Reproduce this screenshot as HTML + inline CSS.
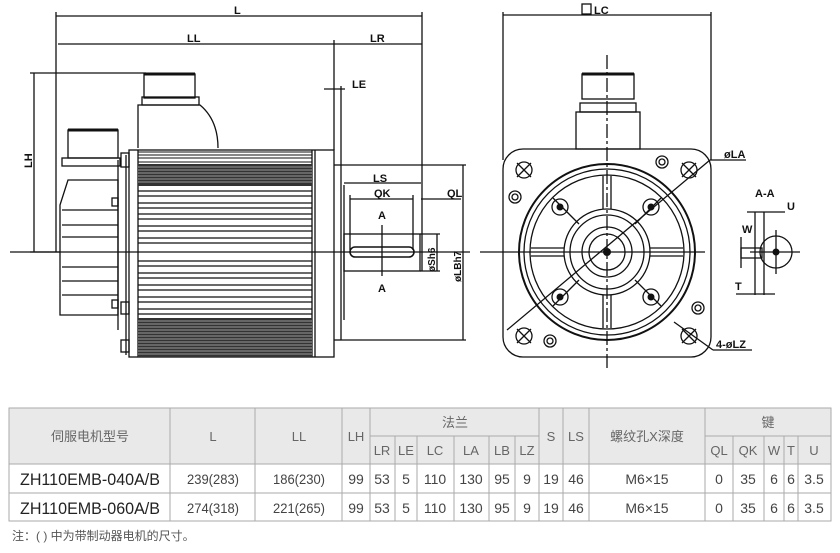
<!DOCTYPE html>
<html><head><meta charset="utf-8"><style>
html,body{margin:0;padding:0;background:#fff;width:840px;height:553px;overflow:hidden}
svg{display:block}
</style></head><body>
<svg width="840" height="553" viewBox="0 0 840 553" xmlns="http://www.w3.org/2000/svg" font-family="Liberation Sans, sans-serif">
<g stroke="#111" stroke-width="1.3" fill="none">
<!-- dimension lines left view -->
<line x1="56" y1="16" x2="422" y2="16"/>
<line x1="56" y1="12" x2="56" y2="252"/>
<line x1="422" y1="12" x2="422" y2="271"/>
<line x1="58" y1="44" x2="334" y2="44"/>
<line x1="334" y1="40" x2="334" y2="150"/>
<line x1="334" y1="44" x2="422" y2="44"/>
<line x1="324" y1="89" x2="345" y2="89"/>
<line x1="341" y1="86" x2="341" y2="165"/>
<line x1="34" y1="73" x2="34" y2="252"/>
<line x1="30" y1="73" x2="146" y2="73"/>
<line x1="30" y1="252" x2="60" y2="252"/>
<!-- motor body -->
<rect x="129" y="150" width="205" height="207"/>
<line x1="138" y1="150" x2="138" y2="357"/>
<line x1="312" y1="150" x2="312" y2="357"/>
<line x1="315" y1="150" x2="315" y2="357"/>
<line x1="334" y1="165" x2="341" y2="165"/>
<line x1="334" y1="340" x2="341" y2="340"/>
<line x1="341" y1="165" x2="341" y2="340"/>
<line x1="344" y1="185" x2="344" y2="320"/>
<!-- connector top -->
<path d="M138 148 L138 105 L200 105 Q218 120 218 148"/>
<rect x="142" y="97" width="57" height="8"/>
<rect x="144" y="74" width="51" height="24"/>
<line x1="144" y1="74" x2="195" y2="74" stroke-width="3"/>
<!-- encoder module -->
<path d="M60 315 L60 205 L68 180 L118 180 L118 315 Z"/>
<rect x="62" y="158" width="58" height="8"/>
<rect x="68" y="130" width="50" height="28"/>
<line x1="68" y1="130" x2="118" y2="130" stroke-width="3"/>
<line x1="118" y1="160" x2="118" y2="330"/>
<line x1="126" y1="155" x2="126" y2="355"/>
<rect x="121" y="153" width="8" height="14"/>
<rect x="121" y="302" width="8" height="12"/>
<rect x="121" y="340" width="8" height="12"/>
<rect x="112" y="198" width="6" height="8"/>
<rect x="112" y="300" width="6" height="8"/>
<!-- shaft -->
<line x1="341" y1="165" x2="466" y2="165"/>
<line x1="341" y1="340" x2="466" y2="340"/>
<rect x="344" y="234" width="76" height="37"/>
<rect x="350" y="247" width="64" height="10" rx="5" stroke-width="1.6"/>
<line x1="463" y1="165" x2="463" y2="340"/>
<line x1="344" y1="183" x2="421" y2="183"/>
<line x1="350" y1="199" x2="413" y2="199"/>
<line x1="421" y1="199" x2="461" y2="199"/>
<line x1="350" y1="195" x2="350" y2="250"/>
<line x1="413" y1="195" x2="413" y2="250"/>
<line x1="382" y1="225" x2="382" y2="276"/>
<line x1="420" y1="234" x2="440" y2="234"/>
<line x1="420" y1="271" x2="440" y2="271"/>
<line x1="437" y1="234" x2="437" y2="271"/>
<line x1="10" y1="252" x2="470" y2="252"/>
</g>
<g stroke="#111" stroke-width="1">
<line x1="138" y1="152" x2="312" y2="152"/>
<line x1="138" y1="155" x2="312" y2="155"/>
<line x1="138" y1="158" x2="312" y2="158"/>
<line x1="138" y1="162" x2="312" y2="162"/>
</g>
<rect x="138" y="164" width="174" height="22" fill="#333"/>
<rect x="138" y="318" width="174" height="39" fill="#333"/>
<g stroke="#fff" stroke-width="0.6">
<line x1="138" y1="167" x2="312" y2="167"/><line x1="138" y1="170" x2="312" y2="170"/><line x1="138" y1="173" x2="312" y2="173"/><line x1="138" y1="176" x2="312" y2="176"/><line x1="138" y1="179" x2="312" y2="179"/><line x1="138" y1="182" x2="312" y2="182"/>
<line x1="138" y1="321" x2="312" y2="321"/><line x1="138" y1="324" x2="312" y2="324"/><line x1="138" y1="327" x2="312" y2="327"/><line x1="138" y1="330" x2="312" y2="330"/><line x1="138" y1="333" x2="312" y2="333"/><line x1="138" y1="336" x2="312" y2="336"/><line x1="138" y1="339" x2="312" y2="339"/><line x1="138" y1="342" x2="312" y2="342"/><line x1="138" y1="345" x2="312" y2="345"/><line x1="138" y1="348" x2="312" y2="348"/><line x1="138" y1="351" x2="312" y2="351"/><line x1="138" y1="354" x2="312" y2="354"/>
</g>
<g stroke="#111" stroke-width="1.3">
<line x1="138" y1="191" x2="312" y2="191"/><line x1="138" y1="196" x2="312" y2="196"/><line x1="138" y1="203" x2="312" y2="203"/><line x1="138" y1="208" x2="312" y2="208"/><line x1="138" y1="214" x2="312" y2="214"/><line x1="138" y1="219" x2="312" y2="219"/><line x1="138" y1="226" x2="312" y2="226"/><line x1="138" y1="231" x2="312" y2="231"/><line x1="138" y1="238" x2="312" y2="238"/><line x1="138" y1="243" x2="312" y2="243"/>
<line x1="138" y1="261" x2="312" y2="261"/><line x1="138" y1="266" x2="312" y2="266"/><line x1="138" y1="273" x2="312" y2="273"/><line x1="138" y1="278" x2="312" y2="278"/><line x1="138" y1="285" x2="312" y2="285"/><line x1="138" y1="290" x2="312" y2="290"/><line x1="138" y1="297" x2="312" y2="297"/><line x1="138" y1="302" x2="312" y2="302"/><line x1="138" y1="309" x2="312" y2="309"/><line x1="138" y1="314" x2="312" y2="314"/>
<line x1="62" y1="210" x2="118" y2="210"/><line x1="62" y1="225" x2="118" y2="225"/><line x1="62" y1="237" x2="118" y2="237"/><line x1="62" y1="267" x2="118" y2="267"/><line x1="62" y1="281" x2="118" y2="281"/><line x1="62" y1="295" x2="118" y2="295"/>
</g>
<g font-size="11" fill="#111" font-weight="600">
<text x="234" y="14">L</text>
<text x="187" y="42">LL</text>
<text x="370" y="42">LR</text>
<text x="352" y="88">LE</text>
<text x="373" y="182">LS</text>
<text x="374" y="197">QK</text>
<text x="447" y="197">QL</text>
<text x="378" y="219">A</text>
<text x="378" y="292">A</text>
<text transform="translate(32,168) rotate(-90)">LH</text>
<text transform="translate(435,272) rotate(-90)" font-size="10">øSh6</text>
<text transform="translate(461,282) rotate(-90)" font-size="10">øLBh7</text>
</g>
<!-- right view -->
<g stroke="#111" stroke-width="1.3" fill="none">
<line x1="503" y1="15" x2="711" y2="15"/>
<line x1="503" y1="12" x2="503" y2="160"/>
<line x1="711" y1="12" x2="711" y2="160"/>
<rect x="582" y="4" width="9" height="10"/>
<rect x="503" y="149" width="208" height="208" rx="20"/>
<rect x="576" y="112" width="64" height="37"/>
<rect x="580" y="103" width="56" height="9"/>
<rect x="582" y="74" width="52" height="25"/>
<line x1="582" y1="74" x2="634" y2="74" stroke-width="3"/>
<circle cx="607" cy="252" r="88" stroke-width="2"/>
<circle cx="607" cy="252" r="83"/>
<circle cx="607" cy="252" r="77"/>
<circle cx="607" cy="252" r="43"/>
<circle cx="607" cy="252" r="37"/>
<circle cx="607" cy="252" r="25"/>
<circle cx="607" cy="252" r="18"/>
<line x1="603" y1="176" x2="603" y2="209"/><line x1="611" y1="176" x2="611" y2="209"/>
<line x1="603" y1="295" x2="603" y2="328"/><line x1="611" y1="295" x2="611" y2="328"/>
<line x1="531" y1="248" x2="564" y2="248"/><line x1="531" y1="256" x2="564" y2="256"/>
<line x1="650" y1="248" x2="683" y2="248"/><line x1="650" y1="256" x2="683" y2="256"/>
<line x1="553" y1="198" x2="579" y2="224"/><line x1="661" y1="198" x2="635" y2="224"/>
<line x1="553" y1="306" x2="579" y2="280"/><line x1="661" y1="306" x2="635" y2="280"/>
<circle cx="560" cy="207" r="8"/><circle cx="651" cy="207" r="8"/><circle cx="560" cy="297" r="8"/><circle cx="651" cy="297" r="8"/>
<circle cx="524" cy="170" r="8"/><circle cx="689" cy="170" r="8"/><circle cx="524" cy="336" r="8"/><circle cx="689" cy="336" r="8"/>
<path d="M517 163 L531 177 M531 163 L517 177 M682 163 L696 177 M696 163 L682 177 M517 329 L531 343 M531 329 L517 343 M682 329 L696 343 M696 329 L682 343"/>
<circle cx="662" cy="162" r="6"/><circle cx="662" cy="162" r="3"/>
<circle cx="515" cy="197" r="6"/><circle cx="515" cy="197" r="3"/>
<circle cx="698" cy="308" r="6"/><circle cx="698" cy="308" r="3"/>
<circle cx="550" cy="341" r="6"/><circle cx="550" cy="341" r="3"/>
<line x1="607" y1="55" x2="607" y2="370" stroke-dasharray="14 3 3 3"/>
<line x1="480" y1="252" x2="705" y2="252"/>
<line x1="507" y1="330" x2="710" y2="160"/>
<line x1="710" y1="160" x2="746" y2="160"/>
<line x1="674" y1="322" x2="713" y2="350"/>
<line x1="713" y1="350" x2="752" y2="350"/>
<circle cx="776" cy="252" r="16"/>
<line x1="755" y1="212" x2="755" y2="295"/>
<line x1="764" y1="212" x2="764" y2="295"/>
<line x1="747" y1="212" x2="785" y2="212"/>
<line x1="741" y1="237" x2="741" y2="268"/>
<rect x="741" y="248" width="21" height="10"/>
<line x1="736" y1="294" x2="775" y2="294"/>
<line x1="750" y1="252" x2="800" y2="252"/>
<line x1="776" y1="230" x2="776" y2="274"/>
</g>
<g fill="#111"><circle cx="607" cy="252" r="4"/><circle cx="776" cy="252" r="3.5"/>
<circle cx="560" cy="207" r="3.5"/><circle cx="651" cy="207" r="3.5"/><circle cx="560" cy="297" r="3.5"/><circle cx="651" cy="297" r="3.5"/></g>
<g font-size="11" fill="#111" font-weight="600">
<text x="594" y="14">LC</text>
<text x="724" y="158">øLA</text>
<text x="716" y="348">4-øLZ</text>
<text x="755" y="197">A-A</text>
<text x="787" y="210">U</text>
<text x="742" y="233">W</text>
<text x="735" y="290">T</text>
</g>
<!-- table -->
<rect x="9" y="408" width="822" height="56" fill="#e9e9e9"/>
<g stroke="#aaa" stroke-width="1" fill="none">
<rect x="9" y="408" width="822" height="113"/>
<line x1="9" y1="464" x2="831" y2="464"/>
<line x1="9" y1="493" x2="831" y2="493"/>
<line x1="370" y1="436" x2="539" y2="436"/>
<line x1="705" y1="436" x2="831" y2="436"/>
<line x1="170" y1="408" x2="170" y2="521"/><line x1="255" y1="408" x2="255" y2="521"/>
<line x1="342" y1="408" x2="342" y2="521"/><line x1="370" y1="408" x2="370" y2="521"/>
<line x1="395" y1="436" x2="395" y2="521"/><line x1="417" y1="436" x2="417" y2="521"/>
<line x1="454" y1="436" x2="454" y2="521"/><line x1="489" y1="436" x2="489" y2="521"/>
<line x1="515" y1="436" x2="515" y2="521"/><line x1="539" y1="408" x2="539" y2="521"/>
<line x1="563" y1="408" x2="563" y2="521"/><line x1="589" y1="408" x2="589" y2="521"/>
<line x1="705" y1="408" x2="705" y2="521"/><line x1="733" y1="436" x2="733" y2="521"/>
<line x1="764" y1="436" x2="764" y2="521"/><line x1="784" y1="436" x2="784" y2="521"/>
<line x1="798" y1="436" x2="798" y2="521"/>
</g>
<g font-size="13" fill="#666" text-anchor="middle" font-family="Liberation Sans, Noto Sans CJK SC, sans-serif">
<text x="90" y="441">伺服电机型号</text><text x="213" y="441">L</text><text x="299" y="441">LL</text><text x="356" y="441">LH</text>
<text x="455" y="427">法兰</text><text x="551" y="441">S</text><text x="576" y="441">LS</text><text x="647" y="441">螺纹孔X深度</text><text x="768" y="427">键</text>
<text x="382" y="455">LR</text><text x="406" y="455">LE</text><text x="435" y="455">LC</text><text x="471" y="455">LA</text><text x="502" y="455">LB</text><text x="527" y="455">LZ</text>
<text x="719" y="455">QL</text><text x="748" y="455">QK</text><text x="774" y="455">W</text><text x="791" y="455">T</text><text x="814" y="455">U</text>
</g>
<g font-size="14" fill="#444" text-anchor="middle" font-stretch="condensed">
<text x="90" y="485" font-size="17" fill="#222" textLength="140" lengthAdjust="spacingAndGlyphs">ZH110EMB-040A/B</text><text x="213" y="484" textLength="52" lengthAdjust="spacingAndGlyphs">239(283)</text><text x="299" y="484" textLength="52" lengthAdjust="spacingAndGlyphs">186(230)</text><text x="356" y="484">99</text><text x="382" y="484">53</text><text x="406" y="484">5</text><text x="435" y="484">110</text><text x="471" y="484">130</text><text x="502" y="484">95</text><text x="527" y="484">9</text><text x="551" y="484">19</text><text x="576" y="484">46</text><text x="647" y="484">M6×15</text><text x="719" y="484">0</text><text x="748" y="484">35</text><text x="774" y="484">6</text><text x="791" y="484">6</text><text x="814" y="484">3.5</text>
<text x="90" y="514" font-size="17" fill="#222" textLength="140" lengthAdjust="spacingAndGlyphs">ZH110EMB-060A/B</text><text x="213" y="513" textLength="52" lengthAdjust="spacingAndGlyphs">274(318)</text><text x="299" y="513" textLength="52" lengthAdjust="spacingAndGlyphs">221(265)</text><text x="356" y="513">99</text><text x="382" y="513">53</text><text x="406" y="513">5</text><text x="435" y="513">110</text><text x="471" y="513">130</text><text x="502" y="513">95</text><text x="527" y="513">9</text><text x="551" y="513">19</text><text x="576" y="513">46</text><text x="647" y="513">M6×15</text><text x="719" y="513">0</text><text x="748" y="513">35</text><text x="774" y="513">6</text><text x="791" y="513">6</text><text x="814" y="513">3.5</text>
</g>
<text x="12" y="540" font-size="12" fill="#555" font-family="Liberation Sans, Noto Sans CJK SC, sans-serif">注：( ) 中为带制动器电机的尺寸。</text>
</svg>
</body></html>
